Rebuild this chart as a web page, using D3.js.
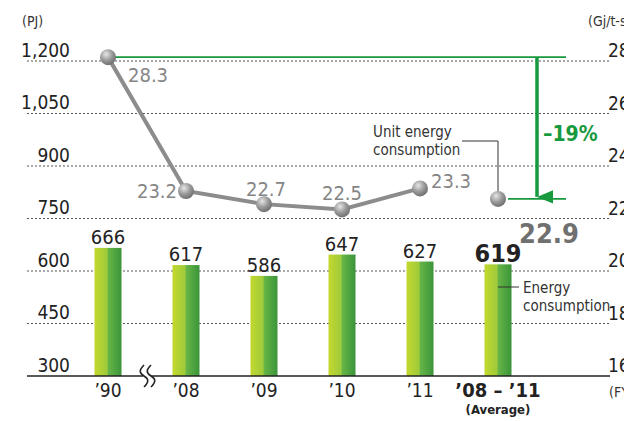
<!DOCTYPE html>
<html>
<head>
<meta charset="utf-8">
<script src="https://cdn.jsdelivr.net/npm/d3@7"></script>
<style>
  body { margin: 0; background: #fff; }
  svg { display: block; }
  text { font-family: "Liberation Sans Narrow", "DejaVu Sans Condensed", "Arial Narrow", sans-serif; }
</style>
</head>
<body>
<svg id="chart" width="624" height="421"></svg>
<script>
// data
let years = ["’90", "’08", "’09", "’10", "’11", "’08 – ’11"];
let energy = [666, 617, 586, 647, 627, 619];          // PJ (bars)
let unitEnergy = [28.3, 23.2, 22.7, 22.5, 23.3, 22.9]; // Gj/t-steel (line)
let leftTicks = [300, 450, 600, 750, 900, 1050, 1200];
let rightTicks = [16, 18, 20, 22, 24, 26, 28];
let reduction = "–19%";

// label placement for the line values (dx, dy, anchor)
let lineLabelPos = [
  [20, 25, "start"], [-9, 7, "end"], [2, -8, "middle"],
  [0, -9, "middle"], [11, 0, "start"], [21, 44, "start"]
];

let svg = d3.select("#chart");
let gridLeft = 27, gridRight = 610;

let x = d3.scalePoint().domain(years).range([108, 498]);
let yL = d3.scaleLinear().domain([300, 1200]).range([376, 61]);
let yR = d3.scaleLinear().domain([16, 28]).range([380, 65]);

let defs = svg.append("defs");
let grad = defs.append("linearGradient").attr("id", "barGrad");
grad.append("stop").attr("offset", "0%").attr("stop-color", "#c4d82e");
grad.append("stop").attr("offset", "46%").attr("stop-color", "#9fcb3b");
grad.append("stop").attr("offset", "52%").attr("stop-color", "#66b446");
grad.append("stop").attr("offset", "100%").attr("stop-color", "#3a9539");

let ball = defs.append("radialGradient").attr("id", "ball")
  .attr("cx", "38%").attr("cy", "32%").attr("r", "70%");
ball.append("stop").attr("offset", "0%").attr("stop-color", "#e6e6e6");
ball.append("stop").attr("offset", "55%").attr("stop-color", "#9a9a9a");
ball.append("stop").attr("offset", "100%").attr("stop-color", "#6e6e6e");

let arrow = defs.append("marker").attr("id", "arrowHead")
  .attr("viewBox", "0 0 10 12").attr("refX", 5).attr("refY", 12)
  .attr("markerWidth", 14).attr("markerHeight", 16)
  .attr("markerUnits", "userSpaceOnUse").attr("orient", "auto-start-reverse");
arrow.append("path").attr("d", "M0,0 L10,0 L5,12 Z").attr("fill", "#17993d");

// dotted grid lines
svg.append("g").selectAll("line")
  .data(leftTicks.filter(d => d > 300))
  .enter().append("line")
  .attr("x1", gridLeft).attr("x2", gridRight)
  .attr("y1", d => yL(d)).attr("y2", d => yL(d))
  .attr("stroke", "#555").attr("stroke-width", 1)
  .attr("stroke-dasharray", "2,2");

// left axis labels
svg.append("g").selectAll("text")
  .data(leftTicks).enter().append("text")
  .attr("x", 70).attr("y", d => yL(d) - 4.5)
  .attr("text-anchor", "end")
  .attr("font-size", 19).attr("fill", "#222")
  .text(d => d3.format(",")(d));

// right axis labels (cut by the frame, as in the source)
svg.append("g").selectAll("text")
  .data(rightTicks).enter().append("text")
  .attr("x", 608).attr("y", d => yR(d) - 8)
  .attr("font-size", 19).attr("fill", "#222")
  .text(d => d);

svg.append("text").attr("x", 22).attr("y", 26)
  .attr("font-size", 14).attr("fill", "#333").text("(PJ)");
svg.append("text").attr("x", 588).attr("y", 26)
  .attr("font-size", 14).attr("fill", "#333").text("(Gj/t-steel)");

// bars
let bw = 27;
svg.append("g").selectAll("rect")
  .data(energy).enter().append("rect")
  .attr("x", (d, i) => x(years[i]) - bw / 2)
  .attr("width", bw)
  .attr("y", d => yL(d))
  .attr("height", d => yL(300) - yL(d))
  .attr("fill", "url(#barGrad)");

svg.append("g").selectAll("text")
  .data(energy).enter().append("text")
  .attr("x", (d, i) => x(years[i]))
  .attr("y", (d, i) => yL(d) - (i == 5 ? 2 : 4))
  .attr("text-anchor", "middle")
  .attr("font-size", (d, i) => i == 5 ? 25 : 20)
  .attr("font-weight", (d, i) => i == 5 ? "bold" : "normal")
  .attr("fill", "#222")
  .text(d => d);

// baseline with break mark
let by = yL(300);
svg.append("line")
  .attr("x1", gridLeft).attr("x2", gridRight)
  .attr("y1", by).attr("y2", by)
  .attr("stroke", "#222").attr("stroke-width", 1.5);
svg.append("rect").attr("x", 143).attr("y", by - 3)
  .attr("width", 8).attr("height", 6).attr("fill", "#fff");
[144, 151].forEach(bx => {
  svg.append("path")
    .attr("d", `M${bx},${by - 11} C${bx - 5},${by - 6} ${bx - 5},${by - 3} ${bx},${by} S${bx + 5},${by + 6} ${bx},${by + 11}`)
    .attr("fill", "none").attr("stroke", "#222").attr("stroke-width", 1.6);
});

// x labels
svg.append("g").selectAll("text")
  .data(years).enter().append("text")
  .attr("x", d => x(d)).attr("y", 397)
  .attr("text-anchor", "middle")
  .attr("font-size", (d, i) => i == 5 ? 20 : 19)
  .attr("font-weight", (d, i) => i == 5 ? "bold" : "normal")
  .attr("fill", "#222")
  .text(d => d);
svg.append("text").attr("x", x(years[5])).attr("y", 414)
  .attr("text-anchor", "middle").attr("font-size", 13).attr("font-weight", "bold")
  .attr("fill", "#222").text("(Average)");
svg.append("text").attr("x", 609).attr("y", 397)
  .attr("font-size", 14).attr("fill", "#333").text("(FY)");

// -19% reduction marker
let topY = yR(unitEnergy[0]), botY = yR(unitEnergy[5]);
svg.append("line").attr("x1", x(years[0])).attr("x2", 566)
  .attr("y1", topY).attr("y2", topY)
  .attr("stroke", "#17993d").attr("stroke-width", 1.8);
svg.append("line").attr("x1", x(years[5]) + 10).attr("x2", 566)
  .attr("y1", botY).attr("y2", botY)
  .attr("stroke", "#17993d").attr("stroke-width", 1.8);
svg.append("line").attr("x1", 537).attr("x2", 537)
  .attr("y1", topY).attr("y2", botY - 2)
  .attr("stroke", "#17993d").attr("stroke-width", 3.5)
  .attr("marker-end", "url(#arrowHead)");
svg.append("text").attr("x", 543).attr("y", 141)
  .attr("font-size", 21).attr("font-weight", "bold").attr("fill", "#17993d")
  .text(reduction);

// leader lines and callouts
let avgX = x(years[5]);
svg.append("path")
  .attr("d", `M462,141 H${avgX} V${botY}`)
  .attr("fill", "none").attr("stroke", "#333").attr("stroke-width", 1);
svg.append("text").attr("x", 373).attr("y", 137)
  .attr("font-size", 15).attr("fill", "#333").text("Unit energy");
svg.append("text").attr("x", 373).attr("y", 155)
  .attr("font-size", 15).attr("fill", "#333").text("consumption");

svg.append("line").attr("x1", avgX).attr("x2", 519)
  .attr("y1", 287).attr("y2", 287)
  .attr("stroke", "#333").attr("stroke-width", 1);
svg.append("text").attr("x", 523).attr("y", 293)
  .attr("font-size", 15).attr("fill", "#333").text("Energy");
svg.append("text").attr("x", 523).attr("y", 311)
  .attr("font-size", 15).attr("fill", "#333").text("consumption");

// unit energy line (first five points)
let line = d3.line()
  .x((d, i) => x(years[i]))
  .y(d => yR(d));
svg.append("path")
  .datum(unitEnergy.slice(0, 5))
  .attr("d", line)
  .attr("fill", "none").attr("stroke", "#8c8c8c").attr("stroke-width", 4);

svg.append("g").selectAll("circle")
  .data(unitEnergy).enter().append("circle")
  .attr("cx", (d, i) => x(years[i]))
  .attr("cy", d => yR(d))
  .attr("r", 8)
  .attr("fill", "url(#ball)");

svg.append("g").selectAll("text")
  .data(unitEnergy).enter().append("text")
  .attr("x", (d, i) => x(years[i]) + lineLabelPos[i][0])
  .attr("y", (d, i) => yR(d) + lineLabelPos[i][1])
  .attr("text-anchor", (d, i) => lineLabelPos[i][2])
  .attr("font-size", (d, i) => i == 5 ? 27 : 20)
  .attr("font-weight", (d, i) => i == 5 ? "bold" : "normal")
  .attr("fill", (d, i) => i == 5 ? "#707070" : "#858585")
  .text(d => d3.format(".1f")(d));
</script>
</body>
</html>
